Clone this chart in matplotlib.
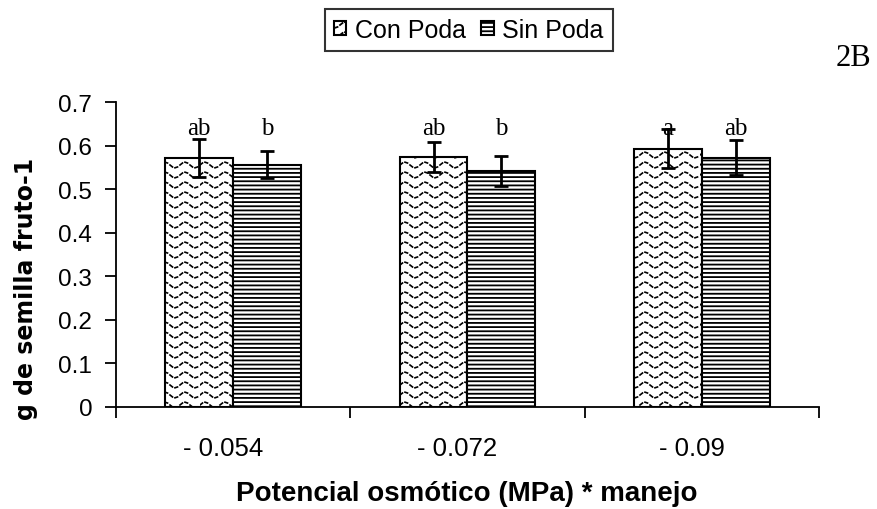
import warnings
import numpy as np
import matplotlib
matplotlib.use("Agg")
import matplotlib.pyplot as plt
import matplotlib.hatch as mhatch
import matplotlib.transforms as mtrans
from matplotlib.path import Path

warnings.filterwarnings("ignore")

# Data
categories = ["- 0.054", "- 0.072", "- 0.09"]
con_poda = [0.571, 0.574, 0.593]
sin_poda = [0.556, 0.542, 0.572]
con_err = [0.043, 0.035, 0.045]
sin_err = [0.031, 0.034, 0.040]
con_letters = ["ab", "ab", "a"]
sin_letters = ["b", "b", "ab"]
letter_y = 0.627


# dotted wavy hatch for "Con Poda" (pattern 'w')
class WaveHatch(mhatch.HatchPatternBase):
    def __init__(self, hatch, density):
        n = hatch.count("w")
        self.rows = 10 * n
        self.cols = 5 * n
        self.segs = 8
        self.num_vertices = self.rows * self.cols * self.segs if n else 0

    def set_vertices_and_codes(self, vertices, codes):
        t = np.linspace(0, 1, self.cols * self.segs + 1)
        i = 0
        for r in range(self.rows):
            y = (r + 0.5) / self.rows + 0.028 * np.sin(2 * np.pi * self.cols * t)
            for k in range(0, self.cols * self.segs, 2):
                vertices[i] = (t[k], y[k])
                vertices[i + 1] = (t[k + 1], y[k + 1])
                codes[i] = Path.MOVETO
                codes[i + 1] = Path.LINETO
                i += 2


mhatch._hatch_types.append(WaveHatch)

plt.rcParams["font.family"] = ["Liberation Sans", "DejaVu Sans"]
serif = ["Liberation Serif", "DejaVu Serif"]

fig = plt.figure(figsize=(8.78, 5.10), dpi=100)
ax = fig.add_axes([0.1321, 0.2, 0.8007, 0.598])

x = np.arange(len(categories))
w = 0.29
plt.rcParams["hatch.linewidth"] = 1.2
b1 = ax.bar(x - w / 2, con_poda, w, color="white", edgecolor="black",
            linewidth=1.5, hatch="w", label="Con Poda")
plt.rcParams["hatch.linewidth"] = 1.3
b2 = ax.bar(x + w / 2, sin_poda, w, color="white", edgecolor="black",
            linewidth=1.5, hatch="----", label="Sin Poda")
ax.errorbar(x - w / 2, con_poda, yerr=con_err, fmt="none", ecolor="black",
            elinewidth=2, capsize=5, capthick=2)
ax.errorbar(x + w / 2, sin_poda, yerr=sin_err, fmt="none", ecolor="black",
            elinewidth=2, capsize=5, capthick=2)

for xi, lc, ls in zip(x, con_letters, sin_letters):
    ax.text(xi - w / 2, letter_y, lc, ha="center", va="baseline",
            family=serif, fontsize=18)
    ax.text(xi + w / 2, letter_y, ls, ha="center", va="baseline",
            family=serif, fontsize=18)

ax.set_xlim(-0.5, 2.5)
ax.set_ylim(0, 0.7)
ax.set_yticks(np.arange(0, 0.71, 0.1))
ax.set_yticklabels(["0"] + ["%.1f" % v for v in np.arange(0.1, 0.71, 0.1)])
ax.tick_params(axis="y", labelsize=17.5, length=8, width=1.3, direction="out", pad=9)

ax.set_xticks([-0.5, 0.5, 1.5, 2.5])
ax.set_xticklabels([])
ax.set_xticks(x, minor=True)
ax.set_xticklabels(categories, minor=True, fontsize=18.5)
ax.tick_params(axis="x", which="major", length=8, width=1.3, direction="out")
ax.tick_params(axis="x", which="minor", length=0, pad=21)
shift = mtrans.ScaledTranslation(-10 / 100, 0, fig.dpi_scale_trans)
for lab in ax.get_xticklabels(minor=True):
    lab.set_transform(lab.get_transform() + shift)

for s in ["top", "right"]:
    ax.spines[s].set_visible(False)
for s in ["left", "bottom"]:
    ax.spines[s].set_linewidth(1.3)

ax.set_ylabel("g de semilla fruto-1", family="DejaVu Sans", fontsize=17,
              fontweight="bold")
ax.yaxis.set_label_coords(-0.111, 0.389)
ax.set_xlabel("Potencial osmótico (MPa) * manejo", fontsize=20, fontweight="bold")
ax.xaxis.set_label_coords(0.499, -0.282)
ax.xaxis.label.set_va("center")

leg = fig.legend(handles=[b1, b2], loc="center", bbox_to_anchor=(0.534, 0.939),
                 ncol=2, frameon=True, fancybox=False, edgecolor="black",
                 handlelength=0.5, handleheight=0.5, handletextpad=0.35,
                 columnspacing=0.6, borderpad=0.35, borderaxespad=0,
                 prop={"size": 18})
leg.get_frame().set_linewidth(1.5)

fig.text(0.9715, 0.886, "2B", ha="center", va="center", family=serif, fontsize=22)

fig.savefig("out.png", dpi=100)
